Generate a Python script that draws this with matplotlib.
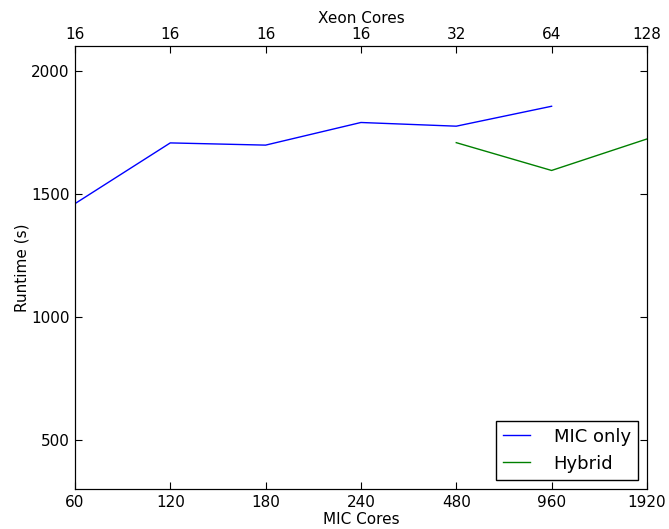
import numpy as np
import matplotlib.pyplot as plt

mic_cores = ['60', '120', '180', '240', '480', '960', '1920']
xeon_cores = ['16', '16', '16', '16', '32', '64', '128']

mic_only = [1460, 1707, 1698, 1790, 1775, 1856]
hybrid = [1708, 1595, 1723]

pos = np.arange(len(mic_cores))

plt.rcParams['font.size'] = 11
fig = plt.figure(figsize=(6.69, 5.29), dpi=100)
ax = fig.add_axes([0.112, 0.0756, 0.855, 0.837])

ax.plot(pos[:len(mic_only)], mic_only, color='b', lw=1, label='MIC only')
ax.plot(pos[4:4 + len(hybrid)], hybrid, color='g', lw=1, label='Hybrid')

ax.set_xlim(0, 6)
ax.set_ylim(300, 2100)
ax.set_yticks([500, 1000, 1500, 2000])
ax.set_xticks(pos)
ax.set_xticklabels(mic_cores)
ax.set_xlabel('MIC Cores', labelpad=2)
ax.set_ylabel('Runtime (s)', labelpad=1)
ax.tick_params(direction='in', length=5, right=True, top=False, pad=4)

ax2 = ax.twiny()
ax2.set_xlim(0, 6)
ax2.set_xticks(pos)
ax2.set_xticklabels(xeon_cores)
ax2.set_xlabel('Xeon Cores', labelpad=3)
ax2.tick_params(direction='in', length=5, pad=3)

leg = ax.legend(loc='lower right', fontsize=13, fancybox=False,
                framealpha=1, handlelength=1.5, handletextpad=1.3,
                borderaxespad=0.5)
leg.get_frame().set_edgecolor('black')

fig.savefig('out.png', dpi=100)
